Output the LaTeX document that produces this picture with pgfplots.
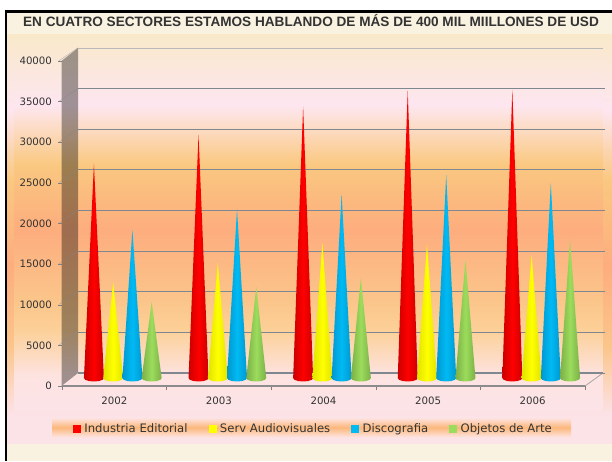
\documentclass[border=0pt]{standalone}
\usepackage{fontspec}
\setmainfont{DejaVu Sans}
\newfontfamily\titlefont{Liberation Sans}
\usepackage{pgfplots}
\pgfplotsset{compat=1.18}
\definecolor{b0}{HTML}{F9E9CA}\definecolor{b1}{HTML}{FDE6F0}\definecolor{b2}{HTML}{FDE0D4}
\definecolor{b3}{HTML}{FAC880}\definecolor{b4}{HTML}{FDAD7E}\definecolor{b5}{HTML}{FBC58A}
\definecolor{b6}{HTML}{FCD098}\definecolor{b7}{HTML}{FDE3E0}\definecolor{b8}{HTML}{FCE3E8}
\pgfdeclareverticalshading{innerbg}{100bp}{color(0bp)=(b8); color(25bp)=(b8); color(29.67bp)=(b7); color(35.67bp)=(b6); color(39.67bp)=(b5); color(49bp)=(b4); color(57.67bp)=(b3); color(63.67bp)=(b2); color(65.67bp)=(b1); color(75bp)=(b0); color(100bp)=(b0)}
\pgfdeclareverticalshading{outerbg}{100bp}{color(0bp)=(b8); color(28.4bp)=(b8); color(37bp)=(b5); color(46.8bp)=(b4); color(57.2bp)=(b3); color(65.8bp)=(b1); color(75bp)=(b0); color(100bp)=(b0)}
\definecolor{gridc}{HTML}{7F8790}
\definecolor{txt}{HTML}{333333}
\definecolor{cR}{HTML}{FF0000}\definecolor{cRd}{HTML}{CC0000}
\definecolor{cY}{HTML}{FFFF00}\definecolor{cYd}{HTML}{E2E200}
\definecolor{cB}{HTML}{00BAF4}\definecolor{cBd}{HTML}{0098D0}
\definecolor{cG}{HTML}{9CDC5C}\definecolor{cGd}{HTML}{7CB048}
\definecolor{band}{HTML}{FCB87C}
\newcommand{\cone}[3]{%
  \pgfmathsetmacro{\xa}{#1-0.0955}\pgfmathsetmacro{\xb}{#1-0.083}\pgfmathsetmacro{\xc}{#1-0.048}%
  \pgfmathsetmacro{\xd}{#1+0.048}\pgfmathsetmacro{\xe}{#1+0.083}\pgfmathsetmacro{\xf}{#1+0.0955}%
  \addplot[forget plot,draw=none,left color=c#3d,right color=c#3d,middle color=c#3] coordinates {(\xa,0) (#1,#2) (\xf,0) (\xe,-215) (\xd,-374) (#1,-430) (\xc,-374) (\xb,-215)};
}
\begin{document}
\begin{tikzpicture}
\useasboundingbox (0,0) rectangle (612pt,461pt);
\begin{scope}[x=1pt,y=-1pt,shift={(0,461pt)}]
  \fill[white] (0,0) rectangle (612,461);
  \fill[black] (5,10) rectangle (612,461);
  \fill[color={rgb,255:red,250;green,242;blue,224}] (7.4,12.6) rectangle (612,461);
  \shade[shading=outerbg] (7.4,35) rectangle (612,443);
  \shade[shading=innerbg] (14,35) rectangle (602.5,410);
  % walls and floor
  \fill[black,opacity=0.37] (61.5,61) -- (78,48) -- (78,373) -- (61.5,386) -- cycle;
  \foreach \y in {0,1,...,7}{
    \draw[gridc,opacity=0.5,line width=0.5pt] (59,345-\y*40.6) -- (78,332-\y*40.6);
  }
  \draw[gray!70,line width=0.8pt] (585,386) -- (603,373);
  % legend band
  \shade[top color=b7,bottom color=b7,middle color=band] (52,418) rectangle (571,437);
  \node[font=\titlefont\bfseries\fontsize{13.6}{15}\selectfont,text=txt,inner sep=0pt] at (311,21) {EN CUATRO SECTORES ESTAMOS HABLANDO DE MÁS DE 400 MIL MIILLONES DE USD};
\end{scope}
% back wall grid
\begin{axis}[at={(78pt,88pt)},anchor=south west,scale only axis,width=525pt,height=325pt,
  xmin=-0.5,xmax=4.5,ymin=0,ymax=40000,axis line style={draw=none},xtick=\empty,
  scaled y ticks=false,
  ytick={0,5000,...,35000},ymajorgrids,grid style={gridc,line width=0.8pt},
  ytick pos=right,yticklabels={},tick align=outside,tick style={gridc,line width=0.8pt},major tick length=2pt,
  extra y ticks={40000},extra y tick labels={},extra y tick style={grid style={gray!55,line width=0.8pt},tick style={draw=none},major tick length=0pt}]
  \addplot[gridc,line width=1.6pt,forget plot] coordinates {(-0.5,0) (4.5,0)};
\end{axis}
% cones
\begin{axis}[at={(70.5pt,83pt)},anchor=south west,scale only axis,width=523pt,height=325pt,
  xmin=-0.5,xmax=4.5,ymin=0,ymax=40000,clip=false,hide axis]
  \cone{-0.276}{26350}{R}
  \cone{-0.092}{11800}{Y}
  \cone{0.092}{18250}{B}
  \cone{0.276}{9350}{G}
  \cone{0.724}{29950}{R}
  \cone{0.908}{14150}{Y}
  \cone{1.092}{20800}{B}
  \cone{1.276}{11200}{G}
  \cone{1.724}{33400}{R}
  \cone{1.908}{16650}{Y}
  \cone{2.092}{22650}{B}
  \cone{2.276}{12300}{G}
  \cone{2.724}{35350}{R}
  \cone{2.908}{16500}{Y}
  \cone{3.092}{25000}{B}
  \cone{3.276}{14500}{G}
  \cone{3.724}{35450}{R}
  \cone{3.908}{15150}{Y}
  \cone{4.092}{24000}{B}
  \cone{4.276}{17000}{G}
\end{axis}
% front axis
\begin{axis}[at={(62pt,75pt)},anchor=south west,scale only axis,width=523pt,height=325pt,
  xmin=-0.5,xmax=4.5,ymin=0,ymax=40000,
  axis x line*=bottom,axis y line*=left,
  scaled y ticks=false,
  x axis line style={draw={rgb,255:red,140;green,140;blue,140},line width=2.6pt,-},
  y axis line style={draw=none,-},
  xtick={0,1,2,3,4},xticklabels={2002,2003,2004,2005,2006},
  minor xtick={-0.5,0.5,1.5,2.5,3.5,4.5},
  ytick={0,5000,...,40000},
  tick align=outside,
  major tick length=3.5pt,minor tick length=3.5pt,
  x tick style={draw=none},
  y tick style={draw=gray,line width=0.5pt},
  minor x tick style={draw=gray,line width=0.5pt},
  /pgf/number format/assume math mode=true,
  /pgf/number format/1000 sep={},
  tick label style={font=\fontsize{10.2}{12}\selectfont,text=txt},
  xticklabel style={yshift=-4pt},
  yticklabel style={xshift=-3pt},
  legend cell align=left,
  legend columns=4,
  legend image code/.code={\fill[#1] (0pt,-3.5pt) rectangle (7pt,3.5pt);},
  legend style={at={(rel axis cs:0.02103,-0.1308)},anchor=west,draw=none,fill=none,
    font=\fontsize{11.65}{14}\selectfont,text=txt,inner sep=0pt,outer sep=0pt,
    nodes={inner sep=0pt,outer sep=0pt},
    /tikz/every odd column/.append style={column sep=4pt},
    /tikz/every even column/.append style={column sep=21pt}}]
  \addlegendimage{cR}\addlegendentry{Industria Editorial}
  \addlegendimage{cY}\addlegendentry{Serv Audiovisuales}
  \addlegendimage{cB}\addlegendentry{Discografia}
  \addlegendimage{cG}\addlegendentry{Objetos de Arte}
\end{axis}
\end{tikzpicture}
\end{document}
